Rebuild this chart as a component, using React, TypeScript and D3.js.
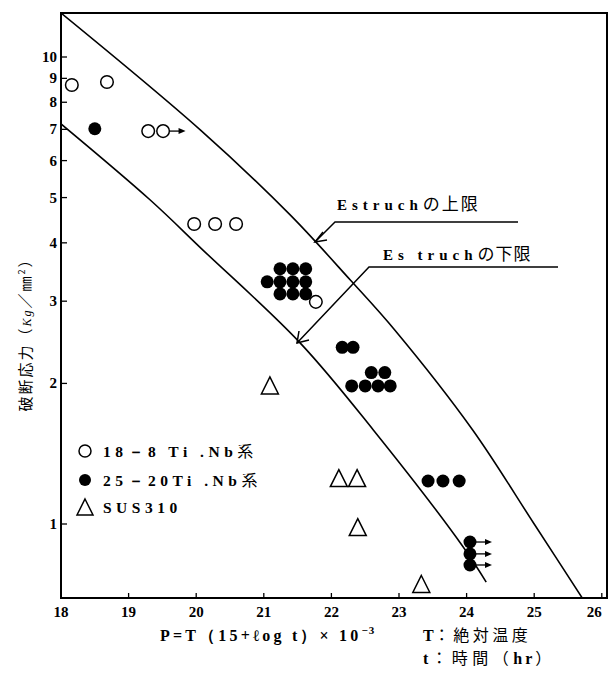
import React from "react";
import * as d3 from "d3";

// Estruch limit curves (P, stress)
const upperP = [18, 20.06, 21.39, 22.28, 22.94, 24.09, 25.0, 25.78];
const upperS = [12.42, 6.98, 4.59, 3.33, 2.6, 1.59, 1.0, 0.67];
const lowerP = [18, 19.32, 20.1, 21.54, 22.62, 23.95, 24.29];
const lowerS = [7.19, 4.94, 3.86, 2.44, 1.59, 0.893, 0.751];

// 18-8 Ti.Nb (open circles)
const openP = [18.16, 18.68, 19.29, 19.51, 19.97, 20.28, 20.59, 21.77];
const openS = [8.71, 8.84, 6.94, 6.94, 4.39, 4.39, 4.39, 2.99];
const openArrow = [0, 0, 0, 1, 0, 0, 0, 0];

// 25-20 Ti.Nb (filled circles)
const fillP = [18.5, 21.24, 21.43, 21.62, 21.05, 21.24, 21.43, 21.62, 21.24, 21.43, 21.62,
  22.16, 22.32, 22.59, 22.79, 22.3, 22.5, 22.69, 22.87, 23.43, 23.65, 23.89, 24.05, 24.05, 24.05];
const fillS = [7.02, 3.52, 3.52, 3.52, 3.3, 3.3, 3.3, 3.3, 3.11, 3.11, 3.11,
  2.39, 2.39, 2.11, 2.11, 1.975, 1.975, 1.975, 1.975, 1.236, 1.236, 1.236, 0.915, 0.863, 0.817];
const fillArrow = [0, 0, 0, 0, 0, 0, 0, 0, 0, 0, 0, 0, 0, 0, 0, 0, 0, 0, 0, 0, 0, 0, 1, 1, 1];

// SUS310 (triangles)
const triP = [21.09, 22.11, 22.38, 22.39, 23.33];
const triS = [1.98, 1.254, 1.254, 0.985, 0.744];

const xTicks = [18, 19, 20, 21, 22, 23, 24, 25, 26];
const yTicks = [1, 2, 3, 4, 5, 6, 7, 8, 9, 10];

const legendLabels = ["18－8 Ti .Nb系", "25－20Ti .Nb系", "SUS310"];

const serif = "'Liberation Serif', 'DejaVu Serif', serif";
const cjk = "'Noto Sans CJK JP', sans-serif";

export default function App() {
  const x = d3.scaleLinear().domain([18, 26]).range([61, 601.8]);
  const y = d3.scaleLog().domain([1, 10]).range([524, 57]);
  const left = 61, top = 13, right = 607, bottom = 598;

  const line = d3
    .line<[number, number]>()
    .x((d) => x(d[0]))
    .y((d) => y(d[1]))
    .curve(d3.curveCatmullRom.alpha(0.5));

  const upper = line(upperP.map((p, i) => [p, upperS[i]]));
  const lower = line(lowerP.map((p, i) => [p, lowerS[i]]));

  const triPath = (cx: number, cy: number, s = 17) =>
    `M${cx},${cy - s * 0.5}L${cx + s / 2},${cy + s * 0.5}L${cx - s / 2},${cy + s * 0.5}Z`;

  const arrowRight = (x0: number, yy: number, len: number, key: string) => (
    <g key={key}>
      <line x1={x0} y1={yy} x2={x0 + len} y2={yy} stroke="#000" strokeWidth={1.3} />
      <path d={`M${x0 + len + 3},${yy}L${x0 + len - 4},${yy - 3}L${x0 + len - 4},${yy + 3}Z`} fill="#000" />
    </g>
  );

  return (
    <svg width={616} height={674} style={{ position: "absolute", left: 0, top: 0, background: "#fff" }}>
      <defs>
        <clipPath id="plot">
          <rect x={left} y={top} width={right - left} height={bottom - top} />
        </clipPath>
      </defs>
      <rect x={0} y={0} width={616} height={674} fill="#fff" />
      {/* frame */}
      <rect x={left} y={top} width={right - left} height={bottom - top} fill="none" stroke="#000" strokeWidth={2} />

      {/* y ticks */}
      {yTicks.map((t) => (
        <g key={"y" + t}>
          <line x1={left} x2={left + 6} y1={y(t)} y2={y(t)} stroke="#000" strokeWidth={1.3} />
          <text x={57} y={y(t) + 5} textAnchor="end" fontFamily={serif} fontWeight="bold" fontSize={15}>
            {t}
          </text>
        </g>
      ))}

      {/* x ticks */}
      {xTicks.map((t, i) => (
        <g key={"x" + t}>
          <line x1={x(t)} x2={x(t)} y1={bottom} y2={bottom - 5} stroke="#000" strokeWidth={1.3} />
          <text
            x={x(t)}
            y={617}
            textAnchor={i === xTicks.length - 1 ? "end" : "middle"}
            fontFamily={serif}
            fontWeight="bold"
            fontSize={15}
          >
            {t}
          </text>
        </g>
      ))}

      {/* curves */}
      <g clipPath="url(#plot)">
        <path d={upper || ""} fill="none" stroke="#000" strokeWidth={1.6} />
        <path d={lower || ""} fill="none" stroke="#000" strokeWidth={1.6} />
      </g>

      {/* open circles */}
      {openP.map((p, i) => (
        <g key={"o" + i}>
          <circle cx={x(p)} cy={y(openS[i])} r={6.3} fill="#fff" stroke="#000" strokeWidth={1.5} />
          {openArrow[i] ? arrowRight(x(p) + 6.5, y(openS[i]), 13, "oa" + i) : null}
        </g>
      ))}

      {/* filled circles */}
      {fillP.map((p, i) => (
        <g key={"f" + i}>
          <circle cx={x(p)} cy={y(fillS[i])} r={6.5} fill="#000" />
          {fillArrow[i] ? arrowRight(x(p) + 6, y(fillS[i]), 13, "fa" + i) : null}
        </g>
      ))}

      {/* triangles */}
      {triP.map((p, i) => (
        <path key={"t" + i} d={triPath(x(p), y(triS[i]))} fill="none" stroke="#000" strokeWidth={1.5} />
      ))}

      {/* Estruch annotations */}
      <g stroke="#000" strokeWidth={1.5} fill="none">
        <polyline points="518,222 335,222 315,242" />
        <polyline points="323,232 315,242 327,240" />
        <polyline points="558,267 369,267 297,343" />
        <polyline points="299,331 297,343 309,340" />
      </g>
      <text x={337} y={210} fontFamily={serif} fontWeight="bold" fontSize={15} letterSpacing={5}>
        Estruch<tspan fontFamily={cjk} fontWeight="normal" fontSize={17} letterSpacing={2}>の上限</tspan>
      </text>
      <text x={383} y={260} fontFamily={serif} fontWeight="bold" fontSize={15} letterSpacing={5}>
        Es truch<tspan fontFamily={cjk} fontWeight="normal" fontSize={17} letterSpacing={1}>の下限</tspan>
      </text>

      {/* legend */}
      <circle cx={85} cy={451} r={6} fill="#fff" stroke="#000" strokeWidth={1.5} />
      <circle cx={85} cy={480} r={6} fill="#000" />
      <path d={triPath(85, 507, 16)} fill="none" stroke="#000" strokeWidth={1.5} />
      {legendLabels.map((l, i) => {
        const m = l.match(/^(.*?)(系?)$/) as RegExpMatchArray;
        return (
          <text key={"l" + i} x={103} y={457 + [0, 29, 56][i]} fontFamily={serif} fontWeight="bold" fontSize={15.5} letterSpacing={4.5}>
            {m[1]}
            {m[2] ? <tspan fontFamily={cjk} fontWeight="normal" fontSize={16} letterSpacing={0}>{m[2]}</tspan> : null}
          </text>
        );
      })}

      {/* y axis title */}
      <text
        transform="translate(31,331) rotate(-90)"
        textAnchor="middle"
        fontFamily={cjk}
        fontSize={15}
        letterSpacing={2}
      >
        破断応力（<tspan fontFamily={serif} fontStyle="italic" fontSize={12}>Kg</tspan>／㎜<tspan dy={-6} fontSize={9}>2</tspan><tspan dy={6}>）</tspan>
      </text>

      {/* x axis title */}
      <text x={160} y={641} fontFamily={serif} fontWeight="bold" fontSize={16} letterSpacing={3.2}>
        P=T（15+ℓog t）× 10<tspan dy={-7} fontSize={11} letterSpacing={1}>−3</tspan>
      </text>
      <text x={423} y={641} fontFamily={serif} fontWeight="bold" fontSize={16}>
        T<tspan fontFamily={cjk} fontWeight="normal" fontSize={16} letterSpacing={3.5}>：絶対温度</tspan>
      </text>
      <text x={423} y={664} fontFamily={serif} fontWeight="bold" fontSize={16} letterSpacing={3}>
        t<tspan fontFamily={cjk} fontWeight="normal" fontSize={16} letterSpacing={4.5}>：時間（</tspan>hr<tspan fontFamily={cjk} fontWeight="normal" fontSize={16}>）</tspan>
      </text>
    </svg>
  );
}
